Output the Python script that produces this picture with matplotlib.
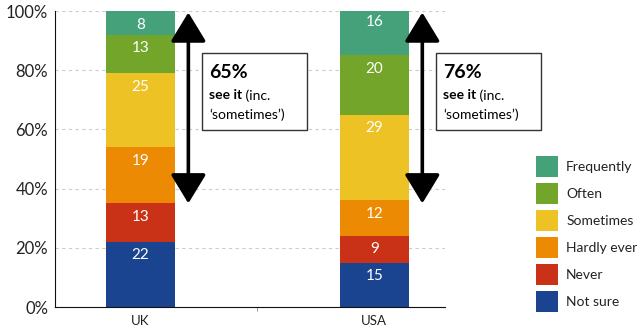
import matplotlib.pyplot as plt
from matplotlib.patches import Rectangle
import numpy as np

plt.rcParams['font.family'] = ['Lato', 'DejaVu Sans']

# data
countries = ['UK', 'USA']
categories = ['Not sure', 'Never', 'Hardly ever', 'Sometimes', 'Often', 'Frequently']
values = {
    'Not sure':    [22, 15],
    'Never':       [13, 9],
    'Hardly ever': [19, 12],
    'Sometimes':   [25, 29],
    'Often':       [13, 20],
    'Frequently':  [8, 16],
}
see_it = [65, 76]
arrow_end = [35, 35]   # where the arrows stop, as drawn
colors = ['#1a448f', '#c93217', '#ec8b03', '#ecc224', '#72a52a', '#44a17a']

fig = plt.figure(figsize=(6.42, 3.34), dpi=100)
ax = fig.add_axes([55/642, 1 - 307/334, 390/642, 296/334])

x = np.arange(len(countries))
bottom = np.zeros(len(countries))
handles = []
for cat, col in zip(categories, colors):
    v = np.array(values[cat], dtype=float)
    b = ax.bar(x, v, bottom=bottom, width=0.295, color=col, label=cat, zorder=2)
    handles.append(b)
    for xi, vi, bi in zip(x, v, bottom):
        ax.text(xi, bi + vi - 2.2, f'{vi:.0f}', ha='center', va='top',
                color='white', fontsize=11, zorder=3)
    bottom += v

ax.set_xlim(-0.365, 1.302)
ax.set_ylim(0, 100)
ax.set_yticks([0, 20, 40, 60, 80, 100])
ax.set_yticklabels([f'{t}%' for t in [0, 20, 40, 60, 80, 100]], fontsize=12, color='#222222')
ax.set_xticks(x)
ax.set_xticklabels(countries, fontsize=9.5, color='#222222')
ax.set_xticks([0.5], minor=True)
ax.tick_params(axis='x', which='major', length=0, pad=6)
ax.tick_params(axis='x', which='minor', length=3, color='#888888')
ax.tick_params(axis='y', length=0, pad=5)
ax.yaxis.grid(True, linestyle=(0, (3, 3)), color='#cccccc', lw=0.8, zorder=0)
ax.spines['top'].set_visible(False)
ax.spines['right'].set_visible(False)
ax.spines['left'].set_color('#111111')
ax.spines['bottom'].set_color('#111111')

# arrows and boxes
for xi, s, e in zip(x, see_it, arrow_end):
    ax.annotate('', xy=(xi + 0.205, e), xytext=(xi + 0.205, 99.5),
                arrowprops=dict(arrowstyle='<|-|>,head_length=1.2,head_width=0.73',
                                mutation_scale=15, lw=2.6, color='black',
                                shrinkA=0, shrinkB=0),
                annotation_clip=False)
    ax.add_patch(Rectangle((xi + 0.262, 59.9), 0.45, 26.0, facecolor='white',
                           edgecolor='#333333', lw=1, clip_on=False, zorder=4))
    ax.text(xi + 0.293, 79.3, f'{s}%', fontsize=14, fontweight='bold',
            va='center', ha='left', zorder=5)
    t = ax.text(xi + 0.293, 71.5, 'see it', fontsize=10, fontweight='bold',
                va='center', ha='left', zorder=5)
    ax.annotate(' (inc.', xy=(1, 0.5), xycoords=t, fontsize=10, va='center',
                ha='left', zorder=5)
    ax.text(xi + 0.293, 65.0, '\u2018sometimes\u2019)', fontsize=10,
            va='center', ha='left', zorder=5)

leg = fig.legend(handles[::-1], categories[::-1], loc='upper left',
                 bbox_to_anchor=(530/642, 1 - 150/334), frameon=False,
                 fontsize=10, handlelength=1.6, handleheight=2.0,
                 labelspacing=0.4, handletextpad=0.6, borderaxespad=0)
for txt in leg.get_texts():
    txt.set_color('#222222')

fig.savefig('out.png', dpi=100)
